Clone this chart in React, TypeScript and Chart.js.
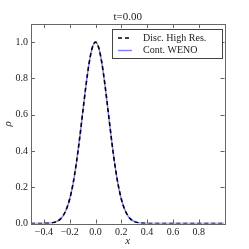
import React, { useEffect, useRef } from "react";
import { Chart, registerables } from "chart.js";

Chart.register(...registerables);

const TITLE = "t=0.00";
const X_LABEL = "x";
const Y_LABEL = "ρ";
const SERIES_NAMES = ["Disc. High Res.", "Cont. WENO"];

const X_POINTS = [
  -0.5, -0.45, -0.4, -0.375, -0.35, -0.325, -0.3, -0.275, -0.25, -0.225, -0.2, -0.175,
  -0.15, -0.125, -0.1, -0.075, -0.05, -0.025, 0, 0.025, 0.05, 0.075, 0.1, 0.125, 0.15,
  0.175, 0.2, 0.225, 0.25, 0.275, 0.3, 0.325, 0.35, 0.375, 0.4, 0.45, 0.5, 0.6, 0.7,
  0.8, 0.9, 1.0,
];

const DISC_VALUES = [
  0, 0, 0.0003, 0.0009, 0.0022, 0.0051, 0.0111, 0.0228, 0.044, 0.0796, 0.135, 0.216,
  0.325, 0.458, 0.607, 0.755, 0.882, 0.969, 1.0, 0.969, 0.882, 0.755, 0.607, 0.458, 0.325,
  0.216, 0.135, 0.0796, 0.044, 0.0228, 0.0111, 0.0051, 0.0022, 0.0009, 0.0003, 0, 0, 0, 0,
  0, 0, 0,
];

const WENO_VALUES = [
  0, 0, 0.0003, 0.0009, 0.0022, 0.0051, 0.0111, 0.0228, 0.044, 0.0796, 0.135, 0.216,
  0.325, 0.458, 0.607, 0.755, 0.882, 0.969, 1.0, 0.969, 0.882, 0.755, 0.607, 0.458, 0.325,
  0.216, 0.135, 0.0796, 0.044, 0.0228, 0.0111, 0.0051, 0.0022, 0.0009, 0.0003, 0, 0, 0, 0,
  0, 0, 0,
];

const X_TICKS = [-0.4, -0.2, 0.0, 0.2, 0.4, 0.6, 0.8];
const Y_TICKS = [0.0, 0.2, 0.4, 0.6, 0.8, 1.0];

const SERIF = "'Liberation Serif', 'DejaVu Serif', serif";
const TEXT_COLOR = "#222";
const FRAME_COLOR = "#666";
const BLUE = "rgba(40, 40, 255, 0.6)";

const fmt = (v: number) => {
  const s = Math.abs(v).toFixed(1);
  return v < -1e-9 ? "\u2212" + s : s;
};

const framePlugin = {
  id: "framePlugin",
  afterDatasetsDraw(chart: any) {
    const { ctx, chartArea } = chart;
    const { left, right, top, bottom } = chartArea;
    const xs = chart.scales.x;
    const ys = chart.scales.y;
    ctx.save();
    ctx.strokeStyle = FRAME_COLOR;
    ctx.lineWidth = 1;
    const tl = 4;
    ctx.beginPath();
    X_TICKS.forEach((v) => {
      const px = Math.round(xs.getPixelForValue(v)) + 0.5;
      ctx.moveTo(px, bottom);
      ctx.lineTo(px, bottom - tl);
      ctx.moveTo(px, top);
      ctx.lineTo(px, top + tl);
    });
    Y_TICKS.forEach((v) => {
      const py = Math.round(ys.getPixelForValue(v)) + 0.5;
      ctx.moveTo(left, py);
      ctx.lineTo(left + tl, py);
      ctx.moveTo(right, py);
      ctx.lineTo(right - tl, py);
    });
    ctx.stroke();
    ctx.strokeRect(Math.round(left) + 0.5, Math.round(top) + 0.5, Math.round(right - left), Math.round(bottom - top));

    // title
    ctx.fillStyle = TEXT_COLOR;
    ctx.font = `11px ${SERIF}`;
    ctx.textAlign = "center";
    ctx.textBaseline = "middle";
    ctx.fillText(TITLE, (left + right) / 2, 17);

    // legend
    const lx = 112, ly = 29, lw = 110, lh = 29;
    ctx.fillStyle = "#fff";
    ctx.fillRect(lx, ly, lw, lh);
    ctx.strokeStyle = "#444";
    ctx.strokeRect(lx + 0.5, ly + 0.5, lw, lh);
    const rows = [ly + 9, ly + 21.5];
    ctx.strokeStyle = "#000";
    ctx.lineWidth = 1.6;
    ctx.setLineDash([4, 3]);
    ctx.beginPath();
    ctx.moveTo(118, rows[0]);
    ctx.lineTo(132, rows[0]);
    ctx.stroke();
    ctx.setLineDash([]);
    ctx.strokeStyle = BLUE;
    ctx.lineWidth = 1.4;
    ctx.beginPath();
    ctx.moveTo(118, rows[1]);
    ctx.lineTo(132, rows[1]);
    ctx.stroke();
    ctx.fillStyle = TEXT_COLOR;
    ctx.font = `10px ${SERIF}`;
    ctx.textAlign = "left";
    ctx.textBaseline = "middle";
    ctx.fillText(SERIES_NAMES[0], 143, rows[0]);
    ctx.fillText(SERIES_NAMES[1], 143, rows[1]);
    ctx.restore();
  },
};

export default function App() {
  const ref = useRef<HTMLCanvasElement | null>(null);
  useEffect(() => {
    if (!ref.current) return;
    const disc = X_POINTS.map((x, i) => ({ x, y: DISC_VALUES[i] }));
    const weno = X_POINTS.map((x, i) => ({ x, y: WENO_VALUES[i] }));
    const chart = new Chart(ref.current, {
      type: "line",
      data: {
        datasets: [
          {
            label: SERIES_NAMES[0],
            data: disc,
            borderColor: "#000",
            borderWidth: 1.6,
            borderDash: [4, 3],
            pointRadius: 0,
            cubicInterpolationMode: "monotone",
            order: 0,
          },
          {
            label: SERIES_NAMES[1],
            data: weno,
            borderColor: BLUE,
            borderWidth: 1.4,
            pointRadius: 0,
            cubicInterpolationMode: "monotone",
            order: 1,
          },
        ],
      },
      options: {
        animation: false,
        responsive: false,
        devicePixelRatio: 1,
        layout: { padding: { top: 24, right: 24.5, left: 0, bottom: 0 } },
        plugins: {
          legend: { display: false },
          title: { display: false },
          tooltip: { enabled: false },
        },
        scales: {
          x: {
            type: "linear",
            min: -0.5,
            max: 1.0,
            afterFit: (s: any) => {
              s.height = 25.5;
            },
            afterBuildTicks: (s: any) => {
              s.ticks = X_TICKS.map((v) => ({ value: v }));
            },
            grid: { display: false, drawTicks: false },
            border: { display: false },
            ticks: {
              padding: 3,
              color: TEXT_COLOR,
              font: { family: SERIF, size: 10 },
              maxRotation: 0,
              autoSkip: false,
              callback: (v: any) => fmt(Number(v)),
            },
            title: {
              display: true,
              text: X_LABEL,
              color: TEXT_COLOR,
              font: { family: SERIF, size: 11, style: "italic" },
              padding: { top: 0, bottom: 1 },
            },
          },
          y: {
            type: "linear",
            min: 0,
            max: 1.1,
            afterFit: (s: any) => {
              s.width = 31;
            },
            afterBuildTicks: (s: any) => {
              s.ticks = Y_TICKS.map((v) => ({ value: v }));
            },
            grid: { display: false, drawTicks: false },
            border: { display: false },
            ticks: {
              padding: 3,
              color: TEXT_COLOR,
              font: { family: SERIF, size: 10 },
              autoSkip: false,
              callback: (v: any) => fmt(Number(v)),
            },
            title: {
              display: true,
              text: Y_LABEL,
              color: TEXT_COLOR,
              font: { family: SERIF, size: 11, style: "italic" },
              padding: { top: 2, bottom: 0 },
            },
          },
        },
      },
      plugins: [framePlugin],
    });
    return () => chart.destroy();
  }, []);
  return (
    <div style={{ position: "fixed", left: 0, top: 0, width: 249, height: 249, background: "#fff" }}>
      <canvas ref={ref} width={249} height={249} />
    </div>
  );
}
